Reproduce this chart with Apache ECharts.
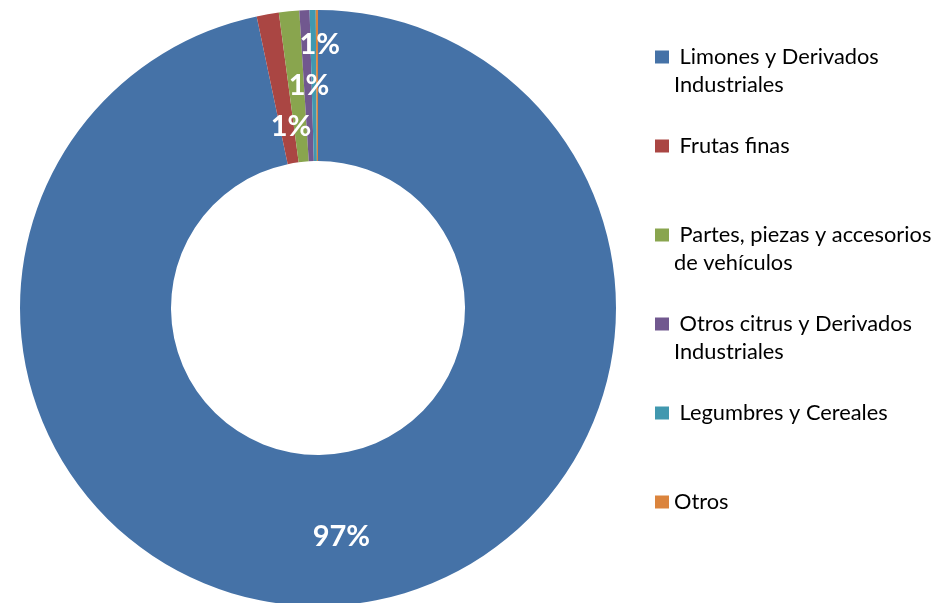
<!DOCTYPE html>
<html>
<head>
<meta charset="utf-8">
<script src="https://cdn.jsdelivr.net/npm/echarts@6/dist/echarts.min.js"></script>
<style>html,body{margin:0;padding:0;background:#fff}#c{width:940px;height:603px}</style>
</head>
<body>
<div id="c"></div>
<script>
var categories = ["Limones y Derivados Industriales", "Frutas finas", "Partes, piezas y accesorios de vehículos", "Otros citrus y Derivados Industriales", "Legumbres y Cereales", "Otros"];
var legendLabels = ["\n Limones y Derivados\nIndustriales", "\n Frutas finas\n ", "\n Partes, piezas y accesorios\nde vehículos", "\n Otros citrus y Derivados\nIndustriales", "\n Legumbres y Cereales\n ", "\nOtros\n "];
var values = [96.7, 1.2, 1.1, 0.55, 0.33, 0.12];
var colors = ["#4572A7", "#AA4643", "#89A54E", "#71588F", "#4198AF", "#DB843D"];
var showLabel = [true, true, true, true, false, false];
var labelShift = [[0, 4], [11, 41], [13, 2], [12, -38], [0, 0], [0, 0]];

var chart = echarts.init(document.getElementById('c'));
chart.setOption({
  animation: false,
  color: colors,
  legend: {
    orient: 'vertical',
    left: 655,
    top: 15,
    padding: 0,
    itemGap: 5,
    itemWidth: 14,
    itemHeight: 13,
    icon: 'rect',
    selectedMode: false,
    data: categories,
    formatter: function (name) { return legendLabels[categories.indexOf(name)]; },
    textStyle: { fontFamily: 'Lato', fontSize: 21.8, color: '#000', lineHeight: 28 }
  },
  series: [{
    type: 'pie',
    center: [318, 308],
    radius: [147, 298],
    startAngle: 90,
    clockwise: true,
    percentPrecision: 0,
    avoidLabelOverlap: false,
    label: {
      show: true,
      position: 'inside',
      formatter: '{d}%',
      color: '#fff',
      fontFamily: 'Lato',
      fontWeight: 'bold',
      fontSize: 29
    },
    labelLine: { show: false },
    labelLayout: function (p) { var s = labelShift[p.dataIndex]; return { dx: s[0], dy: s[1] }; },
    emphasis: { disabled: true },
    data: categories.map(function (c, i) {
      return { name: c, value: values[i], label: { show: showLabel[i] } };
    })
  }]
});
</script>
</body>
</html>
